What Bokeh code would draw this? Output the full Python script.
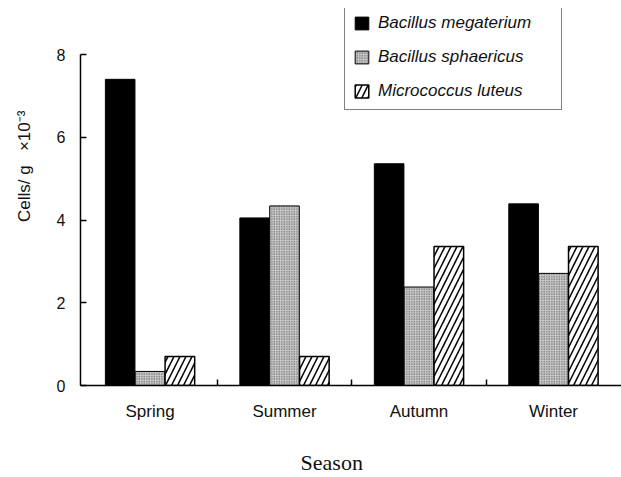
import numpy as np
from bokeh.plotting import figure
from bokeh.models import (ColumnDataSource, Range1d, FixedTicker, Legend, LegendItem)
from bokeh.transform import dodge
from bokeh.embed import file_html
from bokeh.resources import INLINE

# ---- data ----
seasons = ["Spring", "Summer", "Autumn", "Winter"]
b_megaterium = [7.4, 4.05, 5.36, 4.39]
b_sphaericus = [0.34, 4.34, 2.38, 2.71]
m_luteus = [0.70, 0.70, 3.36, 3.36]
series_names = ["Bacillus megaterium", "Bacillus sphaericus", "Micrococcus luteus"]
y_ticks = [0, 2, 4, 6, 8]

xs = list(range(len(seasons)))
src = ColumnDataSource(dict(x=xs, a=b_megaterium, b=b_sphaericus, c=m_luteus))

p = figure(width=621, height=477, output_backend="svg", toolbar_location=None,
           title=None, x_range=Range1d(-0.517, 3.506), y_range=Range1d(0, 9.112),
           min_border_left=80, min_border_right=0, min_border_top=8, min_border_bottom=92)
p.outline_line_color = None
p.xgrid.visible = False
p.ygrid.visible = False
p.background_fill_color = "white"
p.border_fill_color = "white"

w = 0.22
r1 = p.vbar(x=dodge("x", -0.222, range=p.x_range), top="a", width=w, source=src,
            fill_color="black", line_color="black", line_width=1)
r2 = p.vbar(x=dodge("x", 0.0, range=p.x_range), top="b", width=w, source=src,
            fill_color="#c8c8c8", line_color="black", line_width=1,
            hatch_pattern="dot", hatch_scale=2.5, hatch_color="#444444", hatch_weight=1)
r3 = p.vbar(x=dodge("x", 0.222, range=p.x_range), top="c", width=w, source=src,
            fill_color="white", line_color="black", line_width=1.5,
            hatch_pattern="/", hatch_scale=12, hatch_color="black", hatch_weight=1.5)

legend = Legend(items=[LegendItem(label=series_names[0], renderers=[r1]),
                       LegendItem(label=series_names[1], renderers=[r2]),
                       LegendItem(label=series_names[2], renderers=[r3])],
                location=(264, 275))
legend.border_line_color = "black"
legend.border_line_width = 1
legend.background_fill_color = "white"
legend.background_fill_alpha = 1
legend.label_text_font = "Liberation Sans"
legend.label_text_font_style = "italic"
legend.label_text_font_size = "17px"
legend.label_text_color = "#111111"
legend.glyph_width = 17
legend.glyph_height = 16
legend.label_height = 16
legend.label_width = 175
legend.label_standoff = 8
legend.spacing = 14
legend.padding = 8
legend.margin = 0
p.add_layout(legend, "center")

# x axis
p.xaxis.ticker = FixedTicker(ticks=xs, minor_ticks=[0.5, 1.5, 2.5])
p.xaxis.major_label_overrides = {i: s for i, s in zip(xs, seasons)}
p.xaxis.major_tick_in = 0
p.xaxis.major_tick_out = 0
p.xaxis.minor_tick_in = 6
p.xaxis.minor_tick_out = 0
p.xaxis.minor_tick_line_color = "black"
p.xaxis.minor_tick_line_width = 1.5
p.xaxis.axis_line_color = "black"
p.xaxis.axis_line_width = 1.5
p.xaxis.major_label_text_font = "Liberation Sans"
p.xaxis.major_label_text_font_size = "17px"
p.xaxis.major_label_text_color = "#111111"
p.xaxis.major_label_standoff = 16
nb = "\u00a0"
p.xaxis.axis_label = "Season" + nb * 7
p.xaxis.axis_label_text_font = "Liberation Serif"
p.xaxis.axis_label_text_font_style = "normal"
p.xaxis.axis_label_text_font_size = "22px"
p.xaxis.axis_label_text_color = "#111111"
p.xaxis.axis_label_standoff = 26

# y axis
p.yaxis.ticker = FixedTicker(ticks=y_ticks)
p.yaxis.bounds = (0, 8)
p.yaxis.major_tick_in = 6
p.yaxis.major_tick_out = 0
p.yaxis.minor_tick_line_color = None
p.yaxis.axis_line_color = "black"
p.yaxis.axis_line_width = 1.5
p.yaxis.major_tick_line_width = 1.5
p.yaxis.major_label_text_font = "Liberation Sans"
p.yaxis.major_label_text_font_size = "16px"
p.yaxis.major_label_text_color = "#111111"
p.yaxis.major_label_standoff = 15
p.yaxis.axis_label = nb * 13 + "Cells/" + nb + "g" + nb * 3 + "\u00d710\u207b\u00b3"
p.yaxis.axis_label_text_font = "Liberation Sans"
p.yaxis.axis_label_text_font_style = "normal"
p.yaxis.axis_label_text_font_size = "17px"
p.yaxis.axis_label_text_color = "#111111"
p.yaxis.axis_label_standoff = 20

open("out.html", "w").write(file_html(p, INLINE))
